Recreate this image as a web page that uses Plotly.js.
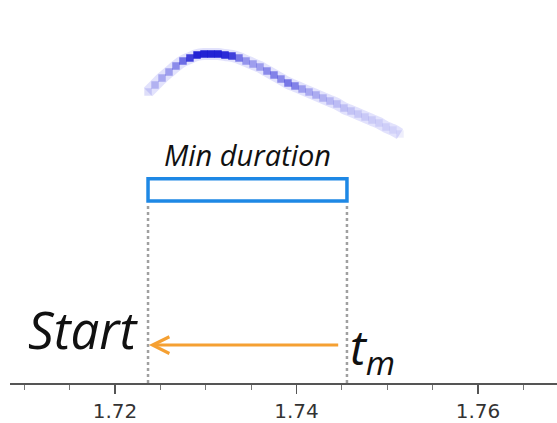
<!DOCTYPE html>
<html>
<head>
<meta charset="utf-8">
<script src="https://cdn.plot.ly/plotly-3.0.1.min.js"></script>
<style>
html,body{margin:0;padding:0;background:#fff;}
#chart{width:557px;height:423px;}
</style>
</head>
<body>
<div id="chart"></div>
<script>
// Spectral track (time in s, relative frequency units) and its intensity
const trackTime = [1.72364,1.72441,1.72518,1.72595,1.72672,1.72749,1.72826,1.72904,1.72981,1.73058,1.73135,1.73212,1.73289,1.73366,1.73444,1.73521,1.73598,1.73675,1.73752,1.73829,1.73906,1.73983,1.74061,1.74138,1.74215,1.74292,1.74369,1.74446,1.74523,1.74601,1.74678,1.74755,1.74832,1.74909,1.74986,1.75063,1.75140];
const trackFreq = [75.98,77.81,79.63,81.20,82.77,84.07,84.86,85.64,85.90,85.90,85.90,85.64,85.38,84.86,84.07,83.29,82.51,81.46,80.42,79.37,78.33,77.55,76.76,75.98,75.20,74.41,73.63,72.85,71.80,71.02,70.23,69.45,68.67,67.89,66.84,66.06,65.01];
const trackIntensity = [0.15,0.25,0.3,0.35,0.45,0.6,0.85,1,1,1,1,0.95,0.85,0.55,0.4,0.35,0.35,0.45,0.5,0.45,0.55,0.5,0.35,0.3,0.28,0.25,0.22,0.2,0.18,0.16,0.14,0.13,0.12,0.1,0.1,0.08,0.08];

// Annotation values
const startTime = 1.72364;
const tmTime = 1.74556;
const tickValues = [1.72, 1.74, 1.76];
const tickLabels = ['1.72', '1.74', '1.76'];

const markerColors = trackIntensity.map(a => 'rgba(0,0,205,' + (0.85 * a).toFixed(3) + ')');

const traces = [
  {
    x: trackTime, y: trackFreq, type: 'scatter', mode: 'lines',
    line: {color: 'rgba(110,110,240,0.2)', width: 12, shape: 'spline'},
    hoverinfo: 'skip', showlegend: false
  },
  {
    x: trackTime, y: trackFreq, type: 'scatter', mode: 'markers',
    marker: {symbol: 'square', size: 7.5, color: markerColors, line: {width: 0}},
    hoverinfo: 'skip', showlegend: false
  }
];

const rectBottom = 47.5, rectTop = 53.3;
const arrowY = 9.9;

const layout = {
  width: 557, height: 423,
  margin: {l: 10, r: 0, t: 0, b: 40},
  paper_bgcolor: '#fff', plot_bgcolor: '#fff',
  xaxis: {
    range: [1.70843, 1.768705],
    tickvals: tickValues, ticktext: tickLabels,
    ticks: 'outside', ticklen: 9, tickwidth: 1.5, tickcolor: '#555',
    minor: {dtick: 0.005, tick0: 1.72, ticks: 'outside', ticklen: 5, tickwidth: 1, tickcolor: '#777', showgrid: false},
    showline: true, linecolor: '#555', linewidth: 2,
    showgrid: false, zeroline: false,
    tickfont: {family: 'DejaVu Sans, Verdana, sans-serif', size: 20, color: '#333'},
    fixedrange: true
  },
  yaxis: {
    range: [0, 100], visible: false, showgrid: false, zeroline: false, fixedrange: true
  },
  shapes: [
    {type: 'line', xref: 'x', yref: 'y', x0: startTime, x1: startTime, y0: 0, y1: rectBottom - 1,
     line: {color: '#a0a0a0', width: 2.5, dash: 'dot'}},
    {type: 'line', xref: 'x', yref: 'y', x0: tmTime, x1: tmTime, y0: 0, y1: rectBottom - 1,
     line: {color: '#a0a0a0', width: 2.5, dash: 'dot'}},
    {type: 'rect', xref: 'x', yref: 'y', x0: startTime, x1: tmTime, y0: rectBottom, y1: rectTop,
     line: {color: 'rgb(30,136,229)', width: 3.5}, fillcolor: 'rgba(0,0,0,0)'}
  ],
  annotations: [
    {x: (startTime + tmTime) / 2, y: rectTop + 0.8, xref: 'x', yref: 'y', showarrow: false,
     yanchor: 'bottom', text: '<i>Min duration</i>',
     font: {family: 'Open Sans, sans-serif', size: 29, color: '#111'}},
    {x: startTime - 0.0009, y: 4.5, xref: 'x', yref: 'y', showarrow: false,
     xanchor: 'right', yanchor: 'bottom', text: '<i>Start</i>',
     font: {family: 'Open Sans, sans-serif', size: 51, color: '#111'}},
    {x: tmTime + 0.0001, y: 8.7, xref: 'x', yref: 'y', showarrow: false,
     xanchor: 'left', yanchor: 'middle', text: '<i>t<sub>m</sub></i>',
     font: {family: 'Open Sans, sans-serif', size: 48, color: '#111'}},
    {x: startTime + 0.0001, y: arrowY, ax: tmTime - 0.0008, ay: arrowY,
     xref: 'x', yref: 'y', axref: 'x', ayref: 'y',
     showarrow: true, arrowhead: 5, arrowsize: 1.1, arrowwidth: 3,
     arrowcolor: 'rgb(245,160,50)', standoff: 0, startstandoff: 0, text: ''}
  ]
};

Plotly.newPlot('chart', traces, layout, {staticPlot: true, displayModeBar: false});
</script>
</body>
</html>
